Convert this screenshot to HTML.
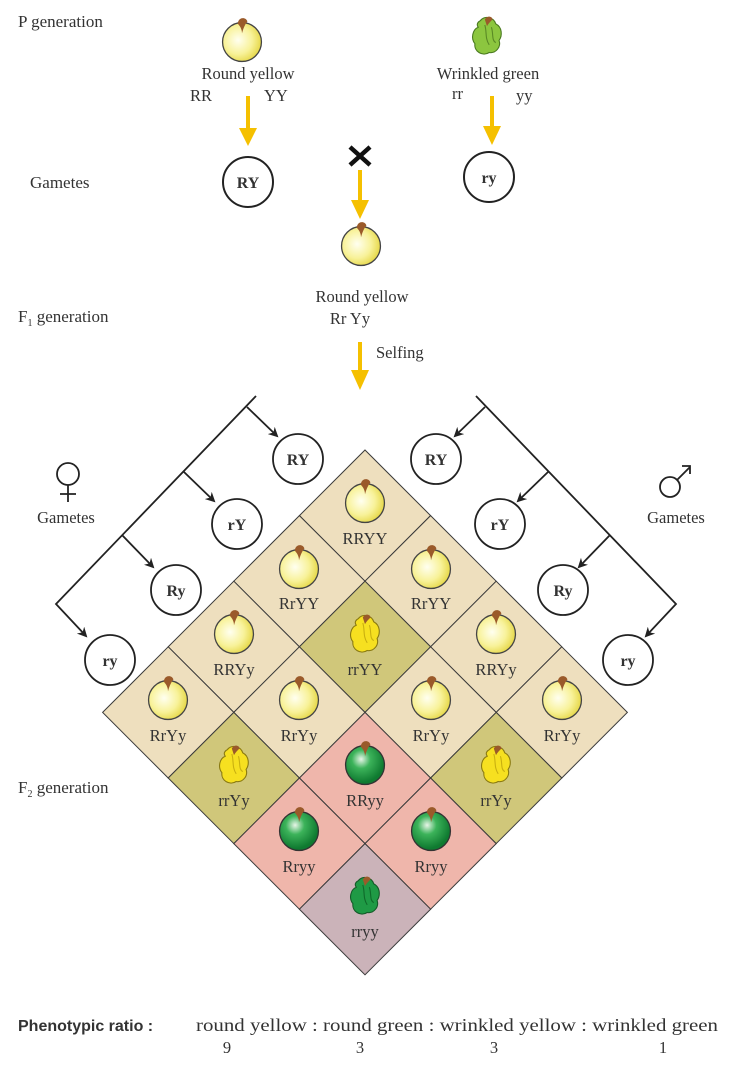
<!DOCTYPE html>
<html><head><meta charset="utf-8"><style>
html,body{margin:0;padding:0;background:#fff;}
svg{display:block;}
text{font-family:"Liberation Serif",serif;fill:#333;}
</style></head><body>
<svg width="733" height="1076" viewBox="0 0 733 1076" xmlns="http://www.w3.org/2000/svg">
<defs>
<radialGradient id="py" cx="0.4" cy="0.45" r="0.6"><stop offset="0" stop-color="#fffff0"/><stop offset="0.6" stop-color="#f8f29a"/><stop offset="1" stop-color="#e6d84a"/></radialGradient>
<radialGradient id="pg" cx="0.4" cy="0.35" r="0.6"><stop offset="0" stop-color="#e8f5e8"/><stop offset="0.4" stop-color="#3cb35a"/><stop offset="1" stop-color="#0f7a30"/></radialGradient>
<g id="ry0"><circle cx="0" cy="0" r="18" fill="url(#py)" stroke="#444" stroke-width="1.2"/><path d="M-4,-17 C-3,-24 4,-23 5,-19 C3,-17 1,-12 0,-8 C0,-12 -2,-15 -4,-17Z" fill="#9a5a2a"/></g>
<g id="ry" transform="scale(1.08)"><use href="#ry0"/></g>
<g id="rg"><g transform="scale(1.08)"><circle cx="0" cy="0" r="18" fill="url(#pg)" stroke="#333" stroke-width="1.2"/><path d="M-4,-17 C-3,-24 4,-23 5,-19 C3,-17 1,-12 0,-8 C0,-12 -2,-15 -4,-17Z" fill="#9a5a2a"/></g></g>
<g id="wy"><g transform="scale(1.1)"><path d="M-6,-14 C-2,-19 6,-17 8,-11 C14,-8 14,0 11,4 C13,10 8,16 2,15 C-4,19 -12,14 -11,7 C-15,2 -13,-6 -8,-8 C-10,-11 -8,-13 -6,-14Z" fill="#f6e020" stroke="#8a7a10" stroke-width="1"/><path d="M-2,-10 C0,-4 -2,2 2,8 M4,-8 C6,-2 4,4 8,6" stroke="#c9b010" fill="none" stroke-width="1"/><path d="M-2,-15 C0,-19 5,-18 5,-15 C3,-13 1,-11 0,-9Z" fill="#9a5a2a"/></g></g>
<g id="wg"><g transform="scale(1.1)"><path d="M-6,-14 C-2,-19 6,-17 8,-11 C14,-8 14,0 11,4 C13,10 8,16 2,15 C-4,19 -12,14 -11,7 C-15,2 -13,-6 -8,-8 C-10,-11 -8,-13 -6,-14Z" fill="#1f9a45" stroke="#145a28" stroke-width="1"/><path d="M-2,-10 C0,-4 -2,2 2,8 M4,-8 C6,-2 4,4 8,6" stroke="#0f6a2a" fill="none" stroke-width="1"/><path d="M-2,-15 C0,-19 5,-18 5,-15 C3,-13 1,-11 0,-9Z" fill="#9a5a2a"/></g></g>
<g id="wlg"><g transform="scale(1.1)"><path d="M-6,-14 C-2,-19 6,-17 8,-11 C14,-8 14,0 11,4 C13,10 8,16 2,15 C-4,19 -12,14 -11,7 C-15,2 -13,-6 -8,-8 C-10,-11 -8,-13 -6,-14Z" fill="#8cc63f" stroke="#4a7a20" stroke-width="1"/><path d="M-2,-10 C0,-4 -2,2 2,8 M4,-8 C6,-2 4,4 8,6" stroke="#5a8a25" fill="none" stroke-width="1"/><path d="M-2,-15 C0,-19 5,-18 5,-15 C3,-13 1,-11 0,-9Z" fill="#9a5a2a"/></g></g>
<marker id="ah" markerWidth="10" markerHeight="10" refX="8" refY="5" orient="auto" markerUnits="userSpaceOnUse"><path d="M0,0 L10,5 L0,10 L3,5Z" fill="#222"/></marker>
</defs>

<text x="18" y="27" font-size="17">P generation</text>
<text x="30" y="188" font-size="17">Gametes</text>
<text x="18" y="322" font-size="17">F<tspan font-size="10" dy="4">1</tspan><tspan dy="-4"> generation</tspan></text>
<text x="18" y="793" font-size="17">F<tspan font-size="10" dy="4">2</tspan><tspan dy="-4"> generation</tspan></text>

<use href="#ry" x="242" y="42"/>
<text x="248" y="79" font-size="16.5" text-anchor="middle">Round yellow</text>
<text x="190" y="101" font-size="16.5">RR</text><text x="264" y="101" font-size="16.5">YY</text>
<use href="#wlg" x="487" y="36"/>
<text x="488" y="79" font-size="16.5" text-anchor="middle">Wrinkled green</text>
<text x="452" y="99" font-size="16.5">rr</text><text x="516" y="101" font-size="16.5">yy</text>

<g fill="#f5c000" stroke="#f5c000">
<line x1="248" y1="96" x2="248" y2="130" stroke-width="4"/><path d="M239,128 L257,128 L248,146Z" stroke="none"/>
<line x1="492" y1="96" x2="492" y2="128" stroke-width="4"/><path d="M483,126 L501,126 L492,145Z" stroke="none"/>
<line x1="360" y1="170" x2="360" y2="202" stroke-width="4"/><path d="M351,200 L369,200 L360,219Z" stroke="none"/>
<line x1="360" y1="342" x2="360" y2="372" stroke-width="4"/><path d="M351,370 L369,370 L360,390Z" stroke="none"/>
</g>
<g stroke="#222" stroke-width="2" fill="none">
<circle cx="248" cy="182" r="25"/><circle cx="489" cy="177" r="25"/>
</g>
<text x="248" y="188" font-size="16" font-weight="bold" text-anchor="middle" fill="#222">RY</text>
<text x="489" y="183" font-size="16" font-weight="bold" text-anchor="middle" fill="#222">ry</text>
<path d="M350,147 L370,165 M370,147 L350,165" stroke="#111" stroke-width="4.5"/>
<use href="#ry" x="361" y="246"/>
<text x="362" y="302" font-size="16.5" text-anchor="middle">Round yellow</text>
<text x="350" y="324" font-size="16.5" text-anchor="middle">Rr Yy</text>
<text x="376" y="358" font-size="16.5">Selfing</text>

<g stroke="#222" stroke-width="1.8" fill="none">
<polyline points="256,396 56,604 86,636" marker-end="url(#ah)"/>
<line x1="247" y1="407" x2="277" y2="436" marker-end="url(#ah)"/>
<line x1="184" y1="472" x2="214" y2="501" marker-end="url(#ah)"/>
<line x1="122" y1="535" x2="153" y2="567" marker-end="url(#ah)"/>
<polyline points="476,396 676,604 646,636" marker-end="url(#ah)"/>
<line x1="485" y1="407" x2="455" y2="436" marker-end="url(#ah)"/>
<line x1="548" y1="472" x2="518" y2="501" marker-end="url(#ah)"/>
<line x1="610" y1="535" x2="579" y2="567" marker-end="url(#ah)"/>
<circle cx="298" cy="459" r="25"/><circle cx="237" cy="524" r="25"/><circle cx="176" cy="590" r="25"/><circle cx="110" cy="660" r="25"/>
<circle cx="436" cy="459" r="25"/><circle cx="500" cy="524" r="25"/><circle cx="563" cy="590" r="25"/><circle cx="628" cy="660" r="25"/>
<circle cx="68" cy="474" r="11"/><path d="M68,485 V502 M60,494 H76"/>
<circle cx="670" cy="487" r="10"/><path d="M677,480 L690,467 M682,466 H690 V474"/>
</g>
<g font-size="16" font-weight="bold" text-anchor="middle">
<text x="298" y="465" fill="#222">RY</text><text x="237" y="530" fill="#222">rY</text><text x="176" y="596" fill="#222">Ry</text><text x="110" y="666" fill="#222">ry</text>
<text x="436" y="465" fill="#222">RY</text><text x="500" y="530" fill="#222">rY</text><text x="563" y="596" fill="#222">Ry</text><text x="628" y="666" fill="#222">ry</text>
</g>
<text x="66" y="523" font-size="16.5" text-anchor="middle">Gametes</text>
<text x="676" y="523" font-size="16.5" text-anchor="middle">Gametes</text>

<g stroke="#3a3a3a" stroke-width="1">
<path d="M365,450 l65.6,65.6 l-65.6,65.6 l-65.6,-65.6Z" fill="#eedfbe"/>
<path d="M299.4,515.6 l65.6,65.6 l-65.6,65.6 l-65.6,-65.6Z" fill="#eedfbe"/>
<path d="M430.6,515.6 l65.6,65.6 l-65.6,65.6 l-65.6,-65.6Z" fill="#eedfbe"/>
<path d="M233.8,581.2 l65.6,65.6 l-65.6,65.6 l-65.6,-65.6Z" fill="#eedfbe"/>
<path d="M365,581.2 l65.6,65.6 l-65.6,65.6 l-65.6,-65.6Z" fill="#d0c77a"/>
<path d="M496.2,581.2 l65.6,65.6 l-65.6,65.6 l-65.6,-65.6Z" fill="#eedfbe"/>
<path d="M168.2,646.8 l65.6,65.6 l-65.6,65.6 l-65.6,-65.6Z" fill="#eedfbe"/>
<path d="M299.4,646.8 l65.6,65.6 l-65.6,65.6 l-65.6,-65.6Z" fill="#eedfbe"/>
<path d="M430.6,646.8 l65.6,65.6 l-65.6,65.6 l-65.6,-65.6Z" fill="#eedfbe"/>
<path d="M561.8,646.8 l65.6,65.6 l-65.6,65.6 l-65.6,-65.6Z" fill="#eedfbe"/>
<path d="M233.8,712.4 l65.6,65.6 l-65.6,65.6 l-65.6,-65.6Z" fill="#d0c77a"/>
<path d="M365,712.4 l65.6,65.6 l-65.6,65.6 l-65.6,-65.6Z" fill="#efb6ab"/>
<path d="M496.2,712.4 l65.6,65.6 l-65.6,65.6 l-65.6,-65.6Z" fill="#d0c77a"/>
<path d="M299.4,778 l65.6,65.6 l-65.6,65.6 l-65.6,-65.6Z" fill="#efb6ab"/>
<path d="M430.6,778 l65.6,65.6 l-65.6,65.6 l-65.6,-65.6Z" fill="#efb6ab"/>
<path d="M365,843.6 l65.6,65.6 l-65.6,65.6 l-65.6,-65.6Z" fill="#cbb3b9"/>
</g>
<use href="#ry" x="365" y="503"/>
<use href="#ry" x="299" y="569"/><use href="#ry" x="431" y="569"/>
<use href="#ry" x="234" y="634"/><use href="#wy" x="365" y="634"/><use href="#ry" x="496" y="634"/>
<use href="#ry" x="168" y="700"/><use href="#ry" x="299" y="700"/><use href="#ry" x="431" y="700"/><use href="#ry" x="562" y="700"/>
<use href="#wy" x="234" y="765"/><use href="#rg" x="365" y="765"/><use href="#wy" x="496" y="765"/>
<use href="#rg" x="299" y="831"/><use href="#rg" x="431" y="831"/>
<use href="#wg" x="365" y="896"/>
<g font-size="16.5" text-anchor="middle">
<text x="365" y="544">RRYY</text>
<text x="299" y="609">RrYY</text><text x="431" y="609">RrYY</text>
<text x="234" y="675">RRYy</text><text x="365" y="675">rrYY</text><text x="496" y="675">RRYy</text>
<text x="168" y="741">RrYy</text><text x="299" y="741">RrYy</text><text x="431" y="741">RrYy</text><text x="562" y="741">RrYy</text>
<text x="234" y="806">rrYy</text><text x="365" y="806">RRyy</text><text x="496" y="806">rrYy</text>
<text x="299" y="872">Rryy</text><text x="431" y="872">Rryy</text>
<text x="365" y="937">rryy</text>
</g>

<text x="18" y="1031" font-size="16" font-weight="bold" fill="#222" style="font-family:'Liberation Sans',sans-serif">Phenotypic ratio :</text>
<text x="196" y="1031" font-size="18" textLength="522" lengthAdjust="spacingAndGlyphs">round yellow : round green : wrinkled yellow : wrinkled green</text>
<g font-size="16.5" text-anchor="middle"><text x="227" y="1053">9</text><text x="360" y="1053">3</text><text x="494" y="1053">3</text><text x="663" y="1053">1</text></g>
</svg>
</body></html>
